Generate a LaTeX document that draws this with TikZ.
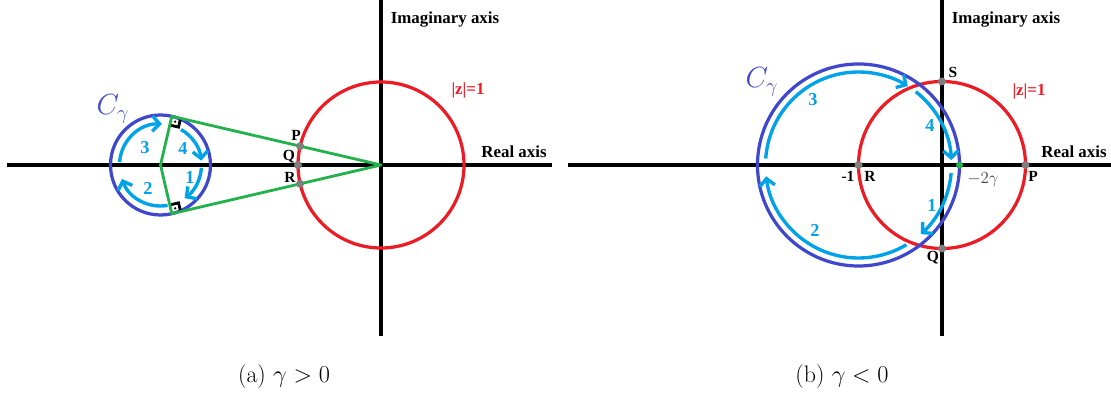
\documentclass[tikz,border=0pt]{standalone}
\usepackage{fontspec}
\newfontfamily\axfont{Liberation Serif}
\usetikzlibrary{arrows.meta,calc}
\definecolor{unitred}{RGB}{237,28,36}
\definecolor{contblue}{RGB}{63,72,204}
\definecolor{arcblue}{RGB}{0,162,232}
\definecolor{tangreen}{RGB}{34,177,76}
\definecolor{ptgray}{RGB}{127,127,127}
\tikzset{
  axis/.style={line width=2.4pt},
  ring/.style={line width=2.3pt},
  axislbl/.style={font=\axfont\bfseries\fontsize{12}{14}\selectfont},
  ptlbl/.style={font=\axfont\bfseries\fontsize{11}{13}\selectfont},
  steplbl/.style={text=arcblue,font=\axfont\bfseries\fontsize{13}{15}\selectfont},
  looparc/.style={arcblue,line width=2.4pt,-{Straight Barb[length=1.8mm,width=3.8mm]}},
  caplbl/.style={font=\fontsize{17}{20}\selectfont}
}
\begin{document}
\begin{tikzpicture}[x=0.025cm,y=0.025cm]
\useasboundingbox (0,0) rectangle (1111,393);
% (a) gamma > 0
\coordinate (O1) at (381,228);
\coordinate (C1) at (160.5,228);
\coordinate (T1) at ($(C1)+(76.9:50)$);
\coordinate (T2) at ($(C1)+(-76.9:50)$);
\coordinate (P1) at ($(O1)!2.075cm!(T1)$);
\coordinate (R1) at ($(O1)!2.075cm!(T2)$);
\coordinate (Q1) at (298,228);
\draw[axis] (7,228) -- (552,228);
\draw[axis] (381,393) -- (381,57);
\draw[unitred,ring] (O1) circle (83);
\draw[contblue,ring] (C1) circle (50);
% right angle marks
\foreach \t in {T1,T2}{
  \coordinate (A) at ($(\t)!0.225cm!(C1)$);
  \coordinate (B) at ($(\t)!0.225cm!(O1)$);
  \coordinate (D) at ($(A)+(B)-(\t)$);
  \draw[line width=2pt] (A) -- (D) -- (B);
  \fill ($(\t)!0.5!(D)$) circle (1.3);
}
\draw[tangreen,line width=2pt,line join=round] (C1) -- (T1) -- (O1) -- (T2) -- cycle;
\draw[looparc] ($(C1)+(176:41)$) arc[start angle=176,end angle=88,radius=41];
\draw[looparc] ($(C1)+(60:41)$) arc[start angle=60,end angle=6,radius=41];
\draw[looparc] ($(C1)+(-4:41)$) arc[start angle=-4,end angle=-54,radius=41];
\draw[looparc] ($(C1)+(-80:41)$) arc[start angle=-80,end angle=-160,radius=41];
\node[steplbl] at (145,245) {3};
\node[steplbl] at (183,245) {4};
\node[steplbl] at (190,216) {1};
\node[steplbl] at (148,205) {2};
\foreach \p in {P1,Q1,R1} \fill[ptgray] (\p) circle (4);
\node[ptlbl] at (296,258) {P};
\node[ptlbl] at (289,236) {Q};
\node[ptlbl] at (290,216) {R};
\node[text=contblue,font=\fontsize{20}{24}\selectfont] at (113,284) {$C_\gamma$};
\node[axislbl,text=unitred] at (468,303) {|z|=1};
\node[axislbl] at (514,241) {Real axis};
\node[axislbl] at (445,373) {Imaginary axis};
\node[caplbl] at (284,16) {(a) $\gamma>0$};
% (b) gamma < 0
\coordinate (O2) at (942,228);
\coordinate (C2) at (858.5,228);
\coordinate (G2) at (959.5,228);
\coordinate (S2) at (942,311.5);
\coordinate (Q2) at (942,144.5);
\coordinate (P2) at (1025.5,228);
\draw[axis] (568,228) -- (1111,228);
\draw[axis] (942,393) -- (942,57);
\draw[unitred,ring] (O2) circle (83.5);
\draw[contblue,ring] (C2) circle (101);
\draw[looparc] ($(C2)+(176:93)$) arc[start angle=176,end angle=58,radius=93];
\draw[looparc] ($(C2)+(52:93)$) arc[start angle=52,end angle=3,radius=93];
\draw[looparc] ($(C2)+(-5:93)$) arc[start angle=-5,end angle=-48,radius=93];
\draw[looparc] ($(C2)+(-59:93)$) arc[start angle=-59,end angle=-173,radius=93];
\node[steplbl] at (813,293) {3};
\node[steplbl] at (930,268) {4};
\node[steplbl] at (932,188) {1};
\node[steplbl] at (815,163) {2};
\foreach \p in {C2,S2,Q2,P2} \fill[ptgray] (\p) circle (4);
\fill[tangreen] (G2) circle (3.5);
\node[ptlbl] at (848,217) {-1};
\node[ptlbl] at (870,217) {R};
\node[ptlbl] at (1033,217) {P};
\node[ptlbl] at (953,321) {S};
\node[ptlbl] at (933,135) {Q};
\node[text=black!75,font=\fontsize{12}{14}\selectfont] at (983,213) {$-2\gamma$};
\node[text=contblue,font=\fontsize{20}{24}\selectfont] at (762,311) {$C_\gamma$};
\node[axislbl,text=unitred] at (1029,302) {|z|=1};
\node[axislbl] at (1074,241) {Real axis};
\node[axislbl] at (1006,373) {Imaginary axis};
\node[caplbl] at (842,16) {(b) $\gamma<0$};
\end{tikzpicture}
\end{document}
